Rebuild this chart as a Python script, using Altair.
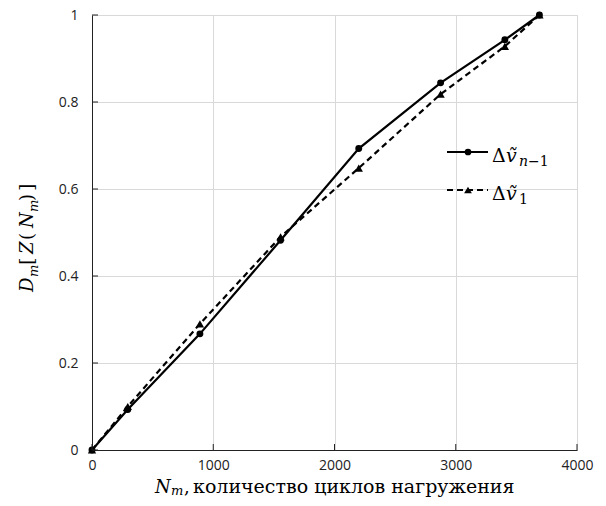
import altair as alt
import pandas as pd

cycles = [0, 295, 890, 1555, 2200, 2875, 3405, 3690]
d_prev = [0, 0.093, 0.267, 0.482, 0.693, 0.844, 0.943, 1.0]
d_first = [0, 0.100, 0.290, 0.490, 0.648, 0.818, 0.928, 1.0]
series_names = ["Δṽn−1", "Δṽ1"]
x_ticks = [0, 1000, 2000, 3000, 4000]
y_ticks = [0, 0.2, 0.4, 0.6, 0.8, 1.0]

df = pd.DataFrame({
    "N": cycles * 2,
    "D": d_prev + d_first,
    "s": [series_names[0]] * len(cycles) + [series_names[1]] * len(cycles),
})

W, H = 485, 435
OX, OY = 92, 15  # page position of plot origin
xs = alt.Scale(domain=[0, 4000], nice=False)
ys = alt.Scale(domain=[0, 1], nice=False)

base = alt.Chart(df)

xax = alt.Axis(values=x_ticks, grid=True, gridColor="#d9d9d9", tickSize=0, format="d",
               labelFlush=False, labelPadding=8, labelFontSize=14, labelFont="Open Sans",
               labelColor="#222", domainColor="#222", title=None)
yax = alt.Axis(values=y_ticks, grid=True, gridColor="#d9d9d9", tickSize=0, format="~g",
               labelFlush=False, labelPadding=14, labelFontSize=14, labelFont="Open Sans",
               labelColor="#222", domainColor="#222", title=None)

line1 = base.transform_filter(alt.datum.s == series_names[0]).mark_line(
    color="black", strokeWidth=2.2).encode(
    x=alt.X("N:Q", scale=xs, axis=xax), y=alt.Y("D:Q", scale=ys, axis=yax))
pts1 = base.transform_filter(alt.datum.s == series_names[0]).mark_point(
    shape="circle", filled=True, color="black", size=48, opacity=1).encode(
    x=alt.X("N:Q", scale=xs), y=alt.Y("D:Q", scale=ys))
line2 = base.transform_filter(alt.datum.s == series_names[1]).mark_line(
    color="black", strokeWidth=2.2, strokeDash=[6, 4]).encode(
    x=alt.X("N:Q", scale=xs), y=alt.Y("D:Q", scale=ys))
pts2 = base.transform_filter(alt.datum.s == series_names[1]).mark_point(
    shape="triangle-up", filled=True, color="black", size=70, opacity=1).encode(
    x=alt.X("N:Q", scale=xs), y=alt.Y("D:Q", scale=ys))

# inward tick marks
xt = alt.Chart(pd.DataFrame({"v": x_ticks})).mark_rule(color="#222").encode(
    x=alt.X("v:Q", scale=xs), y=alt.value(H), y2=alt.value(H - 6))
yt = alt.Chart(pd.DataFrame({"v": y_ticks})).mark_rule(color="#222").encode(
    y=alt.Y("v:Q", scale=ys), x=alt.value(0), x2=alt.value(6))

one = pd.DataFrame({"a": [0]})


def piece(txt, px, py, size, italic=False, angle=0, font="DejaVu Serif"):
    kw = dict(text=txt, align="left", baseline="alphabetic", font=font,
              fontSize=size, color="black")
    if italic:
        kw["fontStyle"] = "italic"
    if angle:
        kw["angle"] = angle
    return alt.Chart(one).mark_text(**kw).encode(x=alt.value(px - OX), y=alt.value(py - OY))


# legend
leg = []
for i, (dash, shp, sz) in enumerate([([1, 0], "circle", 45), ([6, 4], "triangle-up", 60)]):
    yy = 137 + i * 38
    leg.append(alt.Chart(one).mark_rule(color="black", strokeWidth=2.2, strokeDash=dash).encode(
        x=alt.value(355), x2=alt.value(396), y=alt.value(yy)))
    leg.append(alt.Chart(one).mark_point(shape=shp, filled=True, color="black", size=sz, opacity=1).encode(
        x=alt.value(376), y=alt.value(yy)))

leg += [
    piece("Δ", 492, 162, 19),
    piece("ṽ", 506, 162, 19, italic=True),
    piece("n", 519, 166, 14, italic=True),
    piece("−1", 528, 166, 14),
    piece("Δ", 492, 200, 19),
    piece("ṽ", 506, 200, 19, italic=True),
    piece("1", 519, 204, 14),
]

# y title (rotated, reading upward)
A = 270
ytitle = [
    piece("D", 33, 292, 18, italic=True, angle=A),
    piece("m", 38, 277, 13, italic=True, angle=A),
    piece("[", 33, 265, 19, angle=A),
    piece("Z", 33, 254, 18, italic=True, angle=A),
    piece("(", 33, 240, 18, angle=A),
    piece("N", 33, 228, 18, italic=True, angle=A),
    piece("m", 38, 212, 13, italic=True, angle=A),
    piece(")", 33, 201, 18, angle=A),
    piece("]", 33, 191, 19, angle=A),
]

# x title
xtitle = [
    piece("N", 155, 493, 18, italic=True),
    piece("m", 171, 495, 13, italic=True),
    piece(",", 184, 493, 18),
    piece("количество циклов нагружения", 193, 493, 19),
]

chart = alt.layer(line1, line2, pts1, pts2, xt, yt, *leg, *ytitle, *xtitle).properties(
    width=W, height=H,
    autosize=alt.AutoSizeParams(type="none"),
    padding={"left": OX - 8, "top": OY - 8, "right": 606 - 16 - (OX - 8) - W, "bottom": 506 - 16 - (OY - 8) - H},
).configure_view(stroke="#666", strokeWidth=1).configure(background="white")

chart.save("out.html", embed_options={"renderer": "svg", "actions": False})
